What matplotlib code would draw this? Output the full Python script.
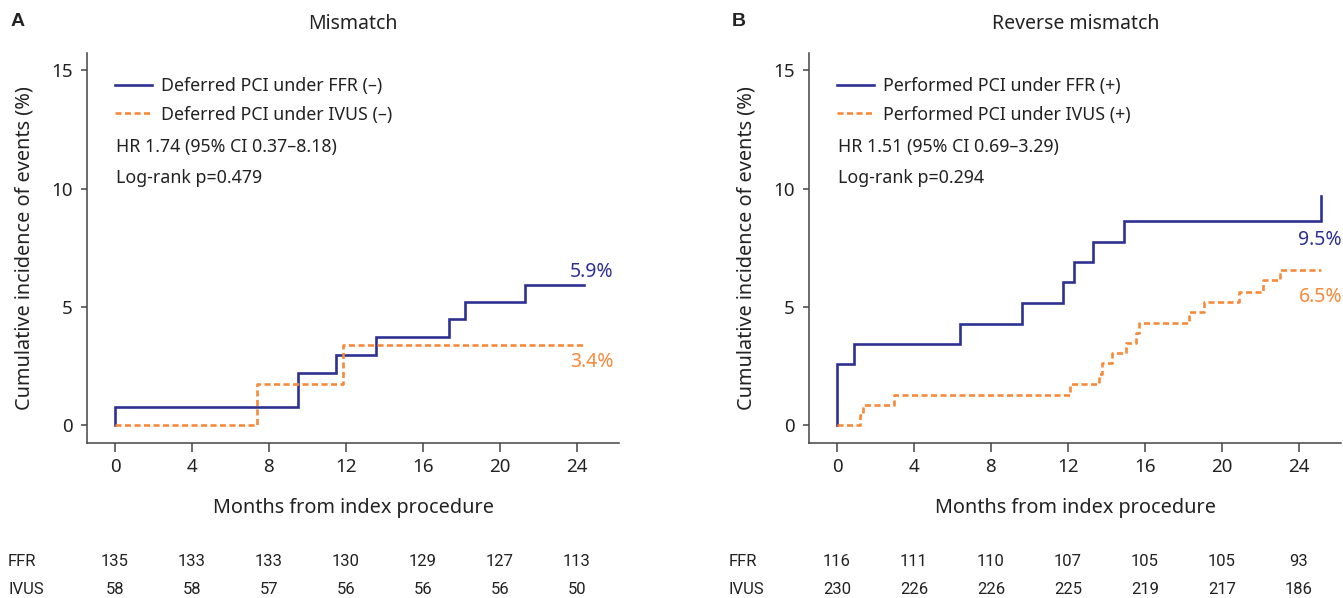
import matplotlib
matplotlib.use("Agg")
import matplotlib.pyplot as plt
import matplotlib.transforms as mtransforms
from matplotlib import font_manager
from matplotlib.lines import Line2D

# ---- data ----
month_ticks = [0, 4, 8, 12, 16, 20, 24]

# panel A: mismatch
a_months_ffr = [0, 0, 9.53, 11.49, 13.57, 17.38, 18.19, 21.31, 24.38]
a_inc_ffr = [0, 0.74, 2.20, 2.96, 3.71, 4.46, 5.19, 5.93, 5.93]
a_months_ivus = [0, 7.40, 11.83, 24.38]
a_inc_ivus = [0, 1.71, 3.40, 3.40]
a_risk_ffr = [135, 133, 133, 130, 129, 127, 113]
a_risk_ivus = [58, 58, 57, 56, 56, 56, 50]

# panel B: reverse mismatch
b_months_ffr = [0, 0, 0.875, 6.38, 9.63, 11.76, 12.32, 13.29, 14.92, 25.13, 25.13]
b_inc_ffr = [0, 2.58, 3.43, 4.28, 5.17, 6.04, 6.91, 7.76, 8.62, 8.62, 9.67]
b_months_ivus = [0, 1.17, 1.34, 2.94, 12.11, 13.62, 13.76, 14.28, 15.03, 15.55,
                 15.67, 18.27, 19.05, 20.88, 22.15, 23.01, 25.18]
b_inc_ivus = [0, 0.42, 0.85, 1.28, 1.74, 2.16, 2.60, 3.03, 3.45, 3.88,
              4.32, 4.77, 5.19, 5.64, 6.11, 6.54, 6.54]
b_risk_ffr = [116, 111, 110, 107, 105, 105, 93]
b_risk_ivus = [230, 226, 226, 225, 219, 217, 186]

BLUE = "#2e3192"
ORANGE = "#f7893b"
AXC = "#444444"
TXT = "#222222"

plt.rcParams['font.family'] = ['Noto Sans', 'DejaVu Sans']

# narrow font for the numbers-at-risk table if available
installed = {f.name for f in font_manager.fontManager.ttflist}
risk_font = 'Liberation Sans Narrow' if 'Liberation Sans Narrow' in installed else 'Roboto'

fig = plt.figure(figsize=(13.43, 5.98), dpi=100)

W, H = 1343.0, 598.0
ax_a = fig.add_axes([87.3 / W, 1 - 443.3 / H, 532 / W, 390.6 / H])
ax_b = fig.add_axes([809.3 / W, 1 - 443.3 / H, 532 / W, 390.6 / H])


def panel(ax, letter, title, mx1, y1, mx2, y2, lab1, lab2, hr, pval,
          end1, end2, endpos, risk1, risk2, rowx):
    ax.step(mx1, y1, where='post', color=BLUE, lw=1.9, solid_joinstyle='miter')
    ax.step(mx2, y2, where='post', color=ORANGE, lw=1.9, dashes=(2.3, 1.3))

    ax.set_xlim(-1.44, 26.21)
    ax.set_ylim(-0.78, 15.75)
    ax.set_xticks(month_ticks)
    ax.set_yticks([0, 5, 10, 15])
    for s in ['top', 'right']:
        ax.spines[s].set_visible(False)
    for s in ['left', 'bottom']:
        ax.spines[s].set_color(AXC)
        ax.spines[s].set_linewidth(1.1)
    ax.tick_params(axis='x', length=6.5, width=1.1, color=AXC, pad=4,
                   labelsize=13.5, labelcolor=TXT)
    ax.tick_params(axis='y', length=4.5, width=1.1, color=AXC, pad=6,
                   labelsize=13.5, labelcolor=TXT)
    ax.set_xlabel("Months from index procedure", fontsize=14.3, color=TXT, labelpad=16)
    ax.set_ylabel("Cumulative incidence of events (%)", fontsize=14.3, color=TXT, labelpad=12)
    ax.set_title(title, fontsize=14, color=TXT, pad=17)

    handles = [Line2D([], [], color=BLUE, lw=1.9),
               Line2D([], [], color=ORANGE, lw=1.9, dashes=(2.3, 1.3))]
    ax.legend(handles, [lab1, lab2], loc='upper left', bbox_to_anchor=(0.052, 0.938),
              frameon=False, fontsize=12.8, handlelength=2.1, handletextpad=0.5,
              labelspacing=0.6, borderpad=0, borderaxespad=0, labelcolor=TXT)
    ax.text(0.054, 0.758, hr, transform=ax.transAxes, fontsize=12.8, color=TXT, va='center')
    ax.text(0.054, 0.678, pval, transform=ax.transAxes, fontsize=12.8, color=TXT, va='center')

    ax.text(endpos[0], endpos[1], end1, ha='right', va='center', fontsize=14, color=BLUE)
    ax.text(endpos[0], endpos[2], end2, ha='right', va='center', fontsize=14, color=ORANGE)

    # panel letter
    fig.text(rowx + 3 / W, 1 - 22 / H, letter, fontsize=14, fontweight='bold',
             color=TXT, va='center', family='Liberation Sans')

    # numbers at risk
    tr = mtransforms.blended_transform_factory(ax.transData, fig.transFigure)
    fig.text(rowx, 1 - 562 / H, "FFR", fontsize=12, color=TXT, va='center', family=risk_font)
    fig.text(rowx, 1 - 590 / H, "IVUS", fontsize=12, color=TXT, va='center', family=risk_font)
    for m, r1, r2 in zip(month_ticks, risk1, risk2):
        ax.text(m, 1 - 562 / H, str(r1), transform=tr, ha='center', va='center',
                fontsize=12, color=TXT, family=risk_font, clip_on=False)
        ax.text(m, 1 - 590 / H, str(r2), transform=tr, ha='center', va='center',
                fontsize=12, color=TXT, family=risk_font, clip_on=False)


panel(ax_a, "A", "Mismatch", a_months_ffr, a_inc_ffr, a_months_ivus, a_inc_ivus,
      "Deferred PCI under FFR (\u2013)", "Deferred PCI under IVUS (\u2013)",
      "HR 1.74 (95% CI 0.37\u20138.18)", "Log-rank p=0.479",
      "5.9%", "3.4%", (25.9, 6.46, 2.65), a_risk_ffr, a_risk_ivus, 8 / W)

panel(ax_b, "B", "Reverse mismatch", b_months_ffr, b_inc_ffr, b_months_ivus, b_inc_ivus,
      "Performed PCI under FFR (+)", "Performed PCI under IVUS (+)",
      "HR 1.51 (95% CI 0.69\u20133.29)", "Log-rank p=0.294",
      "9.5%", "6.5%", (26.25, 7.83, 5.40), b_risk_ffr, b_risk_ivus, 729 / W)

fig.savefig("out.png", dpi=100)
